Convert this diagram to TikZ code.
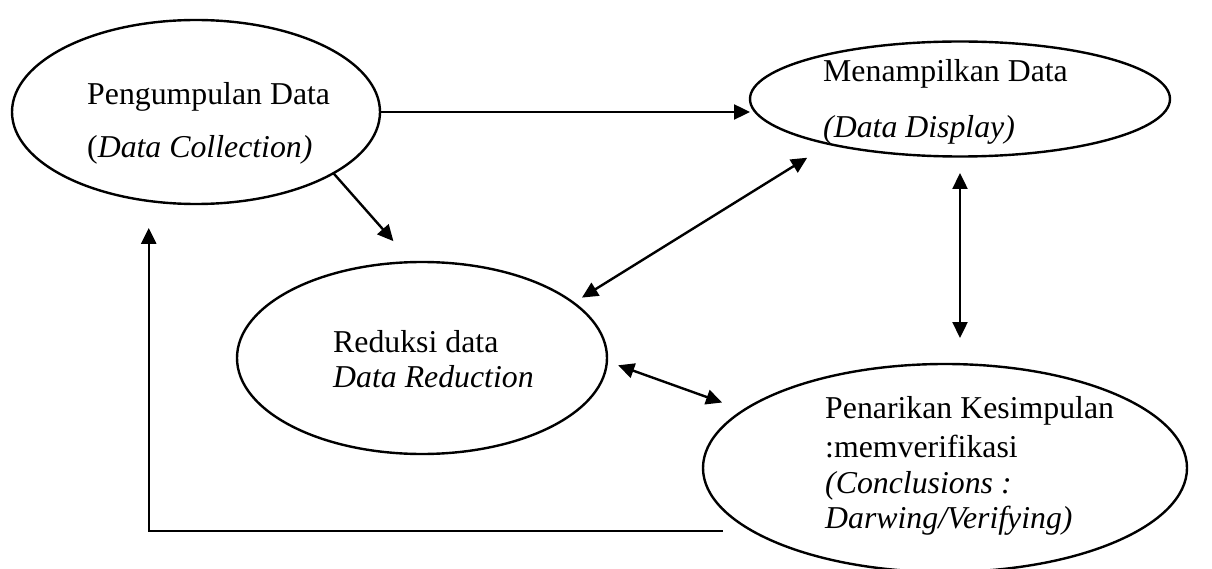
\documentclass[tikz,border=0pt]{standalone}
\usepackage{fontspec}
\setmainfont{Liberation Serif}
\usetikzlibrary{shapes.geometric,arrows.meta}
\begin{document}
\begin{tikzpicture}[x=1pt,y=-1pt,
  ell/.style={draw,ellipse,line width=2.4pt,inner sep=0pt,outer sep=0pt},
  lbl/.style={anchor=base west,inner sep=0pt,font=\fontsize{31.8}{36}\selectfont},
  arr/.style={line width=2.4pt,-{Triangle[length=16pt,width=15pt]}},
  darr/.style={line width=2.4pt,{Triangle[length=16pt,width=15pt]}-{Triangle[length=16pt,width=15pt]}}]
\useasboundingbox (0,0) rectangle (1212,569);
% ellipses
\node[ell,minimum width=368pt,minimum height=184pt] (e1) at (196,112) {};
\node[ell,minimum width=420pt,minimum height=115pt] (e2) at (960,99) {};
\node[ell,minimum width=370pt,minimum height=192pt] (e3) at (422,358) {};
\node[ell,minimum width=484pt,minimum height=208pt] (e4) at (945,468) {};
% texts
\node[lbl] (t1a) at (87,105) {Pengumpulan Data};
\node[lbl] (t1b) at (87,158) {(\textit{Data Collection)}};
\node[lbl] (t2a) at (823,82) {Menampilkan Data};
\node[lbl] (t2b) at (823,138) {\textit{(Data Display)}};
\node[lbl] (t3a) at (333,352) {Reduksi data};
\node[lbl] (t3b) at (333,387) {\textit{Data Reduction}};
\node[lbl] (t4a) at (825,418) {Penarikan Kesimpulan};
\node[lbl] (t4b) at (825,457) {:memverifikasi};
\node[lbl] (t4c) at (825,493) {\textit{(Conclusions :}};
\node[lbl] (t4d) at (825,528) {\textit{Darwing/Verifying)}};
% connectors
\draw[arr] (e1.east) -- (e1.east -| e2.west);
\draw[arr,shorten >=28pt] (e1.-24.4) -- (e3.96.2);
\draw[darr,shorten <=10pt,shorten >=26pt] (e3.20.3) -- (e2.-161.9);
\draw[darr,shorten <=16.5pt,shorten >=26pt] (e2.south) -- (e2.south |- e4.north);
\draw[darr,shorten <=12pt,shorten >=23pt] (e3.-1.15) -- (e4.164.7);
\draw[arr,shorten <=29pt,shorten >=27pt] (e4.-162.7) -| (e1.-118.4);
\end{tikzpicture}
\end{document}
